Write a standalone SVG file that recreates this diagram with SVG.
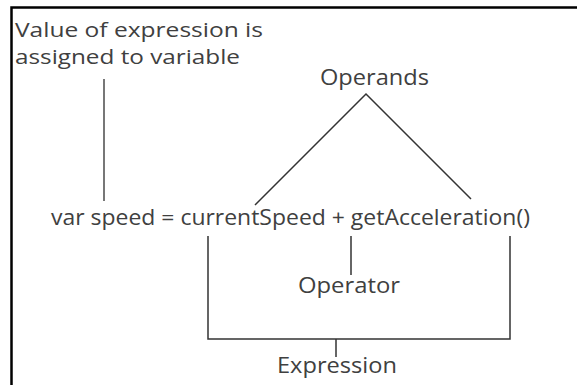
<svg xmlns="http://www.w3.org/2000/svg" width="577" height="385" viewBox="0 0 577 385">
<style>
text{font-family:"Open Sans","Noto Sans","Liberation Sans",sans-serif;font-size:22px;fill:#404040}
.sm{font-size:19.5px}
.ln{stroke:#333;stroke-width:1.5;fill:none}
.gl{stroke:#777;stroke-width:2;fill:none}
</style>
<rect width="577" height="385" fill="#fff"/>
<path d="M11.5 385 V7.5 H577" stroke="#000" stroke-width="2.5" fill="none"/>
<g id="connectors">
<line class="gl" x1="104" y1="79" x2="104" y2="201"/>
<polyline class="ln" points="255,205 366,94 471,199"/>
<line class="ln" x1="351" y1="236" x2="351" y2="275"/>
<polyline class="ln" points="208,236 208,339 510,339 510,236"/>
<line class="ln" x1="336" y1="339" x2="336" y2="357"/>
</g>
<g id="assign"><text class="sm" x="15" y="37" textLength="248" lengthAdjust="spacingAndGlyphs">Value of expression is</text>
<text class="sm" x="15" y="64" textLength="225" lengthAdjust="spacingAndGlyphs">assigned to variable</text></g>
<g id="operands"><text x="320" y="85" textLength="109" lengthAdjust="spacingAndGlyphs">Operands</text></g>
<g id="statement"><text x="51" y="225" textLength="479" lengthAdjust="spacingAndGlyphs">var speed = currentSpeed + getAcceleration()</text></g>
<g id="operator"><text x="298" y="293" textLength="102" lengthAdjust="spacingAndGlyphs">Operator</text></g>
<g id="expression"><text x="277" y="373" textLength="120" lengthAdjust="spacingAndGlyphs">Expression</text></g>
</svg>
